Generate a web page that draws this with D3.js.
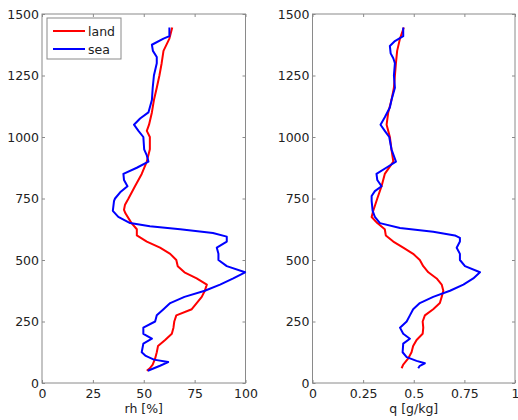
<!DOCTYPE html>
<html>
<head>
<meta charset="utf-8">
<script src="https://cdn.jsdelivr.net/npm/d3@7"></script>
<style>
  body { margin: 0; background: #fff; }
  svg text { font-family: "DejaVu Sans", sans-serif; fill: #222; }
</style>
</head>
<body>
<svg id="chart" width="518" height="420"></svg>
<script>
// altitude (m) and values
var landAlt = [1445,1400,1350,1300,1250,1200,1150,1100,1050,1025,1000,950,900,850,800,750,725,704,690,650,625,600,575,550,525,500,475,450,425,400,375,350,325,300,275,250,225,200,175,150,125,100,75,60,50];
var landRh  = [64,62.6,59.7,58.8,57.7,56.4,55,54,52.6,51.5,53,53,51.5,49,45.7,42.5,40.8,40.3,41,44,46.6,46.6,51.5,58,63,66,66.7,70,76,81,80,78.5,76,73.6,66,65,64.6,63.8,60.5,57,56.4,55.6,54.4,53,51.5];

var seaAlt = [1445,1410,1400,1375,1350,1325,1300,1250,1200,1150,1100,1075,1050,1025,1000,950,925,900,875,850,825,800,775,750,740,700,675,650,637,625,610,595,575,550,525,500,475,450,425,400,375,350,325,300,275,250,225,200,180,160,125,110,95,85,70,50];
var seaRh  = [62.6,62.6,59.7,54,54.5,56.4,56.4,55,54.4,54,52.3,48.2,45.2,47.4,49.8,50.2,51.5,52.3,46.6,40,40.3,42,38.4,35.9,35.4,34.8,37.5,43.3,53,67.9,84,90.8,90.8,85.9,86.7,86.7,90.8,99.8,94,87.5,80,70,63,59.7,56.4,55.6,49.8,49.8,54,49.8,49,51,55,62,58,52];

var landQAlt = [1445,1400,1350,1300,1250,1200,1150,1100,1050,1000,950,900,850,800,750,700,675,650,625,600,575,550,525,500,475,450,425,400,375,350,325,300,275,250,225,200,175,150,125,100,75,60];
var landQ    = [.451,.432,.418,.412,.407,.402,.39,.374,.366,.382,.39,.399,.357,.341,.32,.30,.292,.32,.357,.362,.399,.448,.497,.53,.547,.572,.613,.638,.646,.638,.629,.596,.555,.544,.547,.544,.514,.497,.489,.473,.448,.44];

var seaQAlt = [1445,1410,1390,1370,1340,1320,1300,1250,1200,1150,1120,1080,1050,1025,1000,950,900,880,850,825,800,780,760,740,700,675,650,630,615,600,590,575,550,525,500,475,450,425,400,375,350,325,300,275,250,225,200,180,160,125,105,90,80,70,60];
var seaQ    = [.448,.448,.407,.382,.386,.399,.407,.402,.407,.39,.382,.357,.336,.357,.379,.39,.412,.374,.316,.32,.341,.308,.292,.292,.297,.308,.333,.432,.596,.703,.728,.728,.712,.728,.728,.753,.827,.794,.745,.679,.596,.53,.497,.481,.465,.432,.448,.481,.448,.445,.465,.514,.555,.53,.522];

var altTicks = [0,250,500,750,1000,1250,1500];
var rhTicks = [0,25,50,75,100];
var qTicks = [0,0.25,0.5,0.75,1];
var qTickLabels = ["0","0.25","0.5","0.75","1"];

var svg = d3.select("#chart");

var y = d3.scaleLinear().domain([0,1500]).range([383,14]);

function zip(alt, v){
    var out = [];
    for (var i=0;i<alt.length;i++) out.push({alt:alt[i], v:v[i]});
    return out;
}

function panel(x0, x1, xDomain, xTicks, xLabels, xTitle, series, legend){
    var x = d3.scaleLinear().domain(xDomain).range([x0,x1]);
    var g = svg.append("g");

    // box
    g.append("rect")
        .attr("x", x0).attr("y", y(1500))
        .attr("width", x1-x0).attr("height", y(0)-y(1500))
        .attr("fill", "#fff").attr("stroke", "#8a8a8a").attr("stroke-width", 1);

    // bottom axis (ticks inward)
    var ax = g.append("g").attr("transform", "translate(0," + y(0) + ")")
        .call(d3.axisBottom(x).tickValues(xTicks)
            .tickFormat(function(d,i){ return xLabels[i]; })
            .tickSizeInner(-3).tickSizeOuter(0).tickPadding(6));
    // top ticks
    var axt = g.append("g").attr("transform", "translate(0," + y(1500) + ")")
        .call(d3.axisTop(x).tickValues(xTicks).tickFormat("").tickSizeInner(-3).tickSizeOuter(0));
    var ay = g.append("g").attr("transform", "translate(" + x0 + ",0)")
        .call(d3.axisLeft(y).tickValues(altTicks).tickFormat(d3.format("d"))
            .tickSizeInner(-3).tickSizeOuter(0).tickPadding(3));
    var ayr = g.append("g").attr("transform", "translate(" + x1 + ",0)")
        .call(d3.axisRight(y).tickValues(altTicks).tickFormat("").tickSizeInner(-3).tickSizeOuter(0));

    [ax, axt, ay, ayr].forEach(function(a){
        a.select(".domain").remove();
        a.selectAll("line").attr("stroke", "#8a8a8a");
        a.selectAll("text").style("font-size", "12.5px").attr("fill", "#222");
    });

    var line = d3.line()
        .x(function(d){ return x(d.v); })
        .y(function(d){ return y(d.alt); });

    series.forEach(function(s){
        g.append("path")
            .datum(s.data)
            .attr("fill", "none")
            .attr("stroke", s.color)
            .attr("stroke-width", 2)
            .attr("stroke-linejoin", "round")
            .attr("d", line);
    });

    g.append("text")
        .attr("x", (x0+x1)/2).attr("y", 413)
        .attr("text-anchor", "middle")
        .style("font-size", "12.5px")
        .text(xTitle);

    if (legend){
        var lg = g.append("g");
        lg.append("rect")
            .attr("x", 47).attr("y", 18).attr("width", 74).attr("height", 41)
            .attr("fill", "#fff").attr("stroke", "#8a8a8a");
        series.forEach(function(s,i){
            lg.append("line")
                .attr("x1", 53).attr("x2", 85)
                .attr("y1", 31 + i*18).attr("y2", 31 + i*18)
                .attr("stroke", s.color).attr("stroke-width", 2);
            lg.append("text")
                .attr("x", 88).attr("y", 35.5 + i*18)
                .style("font-size", "12.5px")
                .text(s.name);
        });
    }
}

panel(42, 245.5, [0,100], rhTicks, rhTicks.map(String), "rh [%]", [
    {name:"land", color:"#ff0000", data: zip(landAlt, landRh)},
    {name:"sea",  color:"#0000ff", data: zip(seaAlt, seaRh)}
], true);

panel(312.5, 515, [0,1], qTicks, qTickLabels, "q [g/kg]", [
    {name:"land", color:"#ff0000", data: zip(landQAlt, landQ)},
    {name:"sea",  color:"#0000ff", data: zip(seaQAlt, seaQ)}
], false);
</script>
</body>
</html>
